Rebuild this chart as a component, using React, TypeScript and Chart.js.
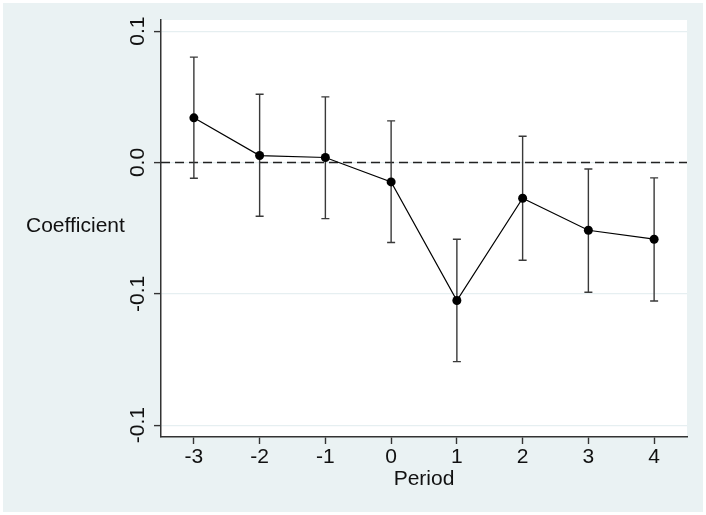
import React, { useEffect, useRef } from "react";
import { Chart, registerables, Plugin } from "chart.js";

Chart.register(...registerables);

// values
const periods = [-3, -2, -1, 0, 1, 2, 3, 4];
const coef = [0.034, 0.0053, 0.0038, -0.0148, -0.1051, -0.0272, -0.0516, -0.0584];
const ciLow = [-0.012, -0.0409, -0.0427, -0.0609, -0.1516, -0.0744, -0.0988, -0.1054];
const ciHigh = [0.0802, 0.052, 0.05, 0.0317, -0.0584, 0.02, -0.0049, -0.0117];

const yTickValues = [0.1, 0, -0.1, -0.2];
const yTickLabels = ["0.1", "0.0", "-0.1", "-0.1"];
const xTickValues = [-3, -2, -1, 0, 1, 2, 3, 4];

const FONT = "'Liberation Sans', Arial, sans-serif";
const FONT_SIZE = 21;
const OUTER_BG = "#eaf2f3";
const AXIS = "#333333";

// background, reference line, error bars, rotated y labels, y title
const stataPlugin: Plugin<"line"> = {
  id: "stata",
  beforeDraw(chart) {
    const { ctx, chartArea, width, height } = chart;
    ctx.save();
    ctx.fillStyle = "#ffffff";
    ctx.fillRect(0, 0, width, height);
    ctx.fillStyle = OUTER_BG;
    ctx.fillRect(3, 3, width - 6, height - 6);
    ctx.fillStyle = "#ffffff";
    ctx.fillRect(chartArea.left, chartArea.top, chartArea.right - chartArea.left, chartArea.bottom - chartArea.top);
    ctx.restore();
  },
  beforeDatasetsDraw(chart) {
    const { ctx, chartArea } = chart;
    const xs = chart.scales.x;
    const ys = chart.scales.y;
    ctx.save();

    // zero line
    const y0 = ys.getPixelForValue(0);
    ctx.strokeStyle = "#222222";
    ctx.lineWidth = 1.4;
    ctx.setLineDash([9, 5]);
    ctx.beginPath();
    ctx.moveTo(chartArea.left, y0);
    ctx.lineTo(chartArea.right, y0);
    ctx.stroke();
    ctx.setLineDash([]);

    // confidence intervals
    ctx.strokeStyle = "#3a3a3a";
    ctx.lineWidth = 1.4;
    periods.forEach((p, i) => {
      const px = xs.getPixelForValue(p);
      const top = ys.getPixelForValue(ciHigh[i]);
      const bot = ys.getPixelForValue(ciLow[i]);
      ctx.beginPath();
      ctx.moveTo(px, top);
      ctx.lineTo(px, bot);
      ctx.moveTo(px - 4, top);
      ctx.lineTo(px + 4, top);
      ctx.moveTo(px - 4, bot);
      ctx.lineTo(px + 4, bot);
      ctx.stroke();
    });
    ctx.restore();
  },
  afterDraw(chart) {
    const { ctx, chartArea } = chart;
    const ys = chart.scales.y;
    ctx.save();
    ctx.fillStyle = "#111111";
    ctx.font = `${FONT_SIZE}px ${FONT}`;
    ctx.textAlign = "center";
    ctx.textBaseline = "middle";
    yTickValues.forEach((v, i) => {
      const py = ys.getPixelForValue(v);
      ctx.save();
      ctx.translate(138, py);
      ctx.rotate(-Math.PI / 2);
      ctx.fillText(yTickLabels[i], 0, 0);
      ctx.restore();
    });
    ctx.textAlign = "left";
    ctx.fillText("Coefficient", 26, (chartArea.top + chartArea.bottom) / 2 - 2);
    ctx.restore();
  },
};

export default function App() {
  const canvasRef = useRef<HTMLCanvasElement>(null);
  const chartRef = useRef<Chart<"line"> | null>(null);

  useEffect(() => {
    document.body.style.margin = "0";
    if (!canvasRef.current) return;
    const ctx = canvasRef.current.getContext("2d");
    if (!ctx) return;

    if (chartRef.current) chartRef.current.destroy();

    chartRef.current = new Chart(ctx, {
      type: "line",
      data: {
        datasets: [
          {
            label: "Coefficient",
            data: periods.map((p, i) => ({ x: p, y: coef[i] })),
            borderColor: "#000000",
            borderWidth: 1.2,
            pointBackgroundColor: "#000000",
            pointBorderColor: "#000000",
            pointRadius: 4.5,
            pointBorderWidth: 0,
            tension: 0,
          },
        ],
      },
      options: {
        animation: false,
        responsive: true,
        maintainAspectRatio: false,
        layout: { padding: { top: 20, right: 19, bottom: 0, left: 0 } },
        plugins: {
          legend: { display: false },
          tooltip: { enabled: false },
        },
        scales: {
          x: {
            type: "linear",
            min: -3.5,
            max: 4.5,
            afterBuildTicks: (scale) => {
              scale.ticks = xTickValues.map((v) => ({ value: v }));
            },
            afterFit: (scale) => {
              scale.height = 78;
            },
            ticks: {
              color: "#111111",
              font: { family: FONT, size: FONT_SIZE },
              padding: 1,
              callback: (v) => String(v),
            },
            grid: { drawOnChartArea: false, tickLength: 7, tickColor: AXIS, tickWidth: 1.4 },
            border: { color: AXIS, width: 1.5 },
            title: {
              display: true,
              text: "Period",
              color: "#111111",
              font: { family: FONT, size: FONT_SIZE },
              padding: { top: 0, bottom: 23 },
            },
          },
          y: {
            type: "linear",
            min: -0.209,
            max: 0.1085,
            afterBuildTicks: (scale) => {
              scale.ticks = yTickValues.map((v) => ({ value: v }));
            },
            afterFit: (scale) => {
              scale.width = 161;
            },
            ticks: { display: false },
            grid: {
              color: "#e6eff1",
              lineWidth: 1.2,
              tickLength: 7,
              tickColor: AXIS,
              tickWidth: 1.4,
            },
            border: { color: AXIS, width: 1.5 },
          },
        },
      },
      plugins: [stataPlugin],
    });

    return () => {
      if (chartRef.current) {
        chartRef.current.destroy();
        chartRef.current = null;
      }
    };
  }, []);

  return (
    <div style={{ width: 706, height: 515, position: "relative" }}>
      <canvas ref={canvasRef}></canvas>
    </div>
  );
}
